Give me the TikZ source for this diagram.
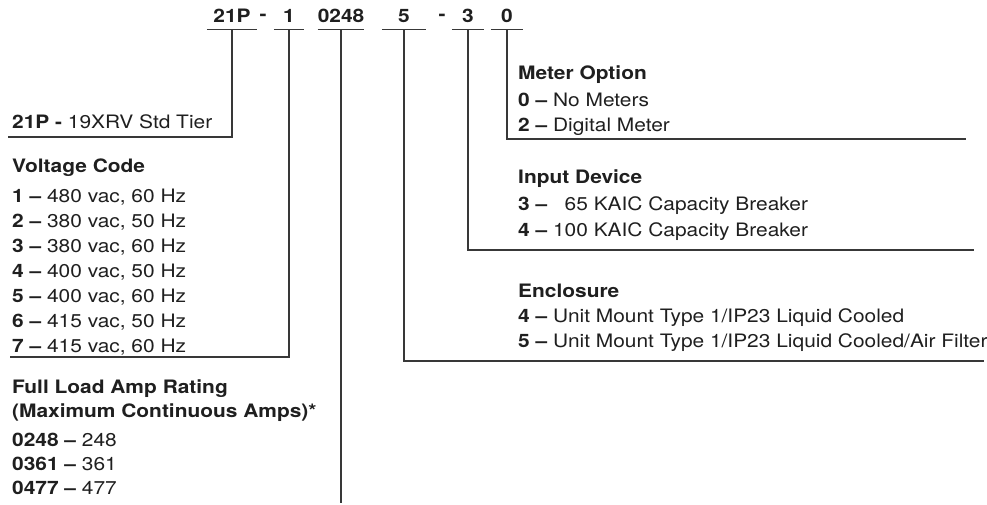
\documentclass[tikz,border=0pt]{standalone}
\usepackage{fontspec}
\setmainfont[FakeStretch=1.13]{TeX Gyre Heros}
\begin{document}
\begin{tikzpicture}[x=1pt,y=1pt,
    every node/.style={text=black!88},
    code/.style={font=\fontsize{18.5}{22}\selectfont\bfseries, anchor=base,
      inner xsep=0pt, inner ysep=6pt, minimum width=#1},
    entry/.style={font=\fontsize{18.5}{22}\selectfont, anchor=base west, inner sep=0pt},
    head/.style={entry, font=\fontsize{18.5}{22}\selectfont\bfseries},
    rule/.style={draw=black!78, line width=1.1pt}]
  \useasboundingbox (0,0) rectangle (987,-505);
  % the model number
  \node[code=50pt] (c21) at (232,-23) {21P};
  \node[code=0pt] (dash1) at (263,-21) {-};
  \node[code=30pt] (c1) at (289,-23) {1};
  \node[code=46pt] (c0248) at (341,-23) {0248};
  \node[code=44pt] (c5) at (404,-23) {5};
  \node[code=0pt] (dash2) at (442,-21) {-};
  \node[code=32pt] (c3) at (468,-23) {3};
  \node[code=32pt] (c0) at (507,-23) {0};
  \foreach \c in {c21,c1,c0248,c5,c3,c0}
    \draw[rule] (\c.south west) -- (\c.south east);

  % left hand side
  \node[entry] (tier) at (12,-129) {\textbf{21P -} 19XRV Std Tier};
  \coordinate (tierend) at (8,-137);
  \draw[rule] (c21.south) |- (tierend);

  \node[head] (volthd) at (12,-172) {Voltage Code};
  \foreach \volt/\hz [count=\i] in {480/60,380/50,380/60,400/50,400/60,415/50,415/60}
    \node[entry] (volt\i) at (12,{-202-25*(\i-1)}) {\textbf{\i\ --} \volt\ vac, \hz\ Hz};
  \coordinate (voltend) at (10,-357);
  \draw[rule] (c1.south) |- (voltend);

  \node[head] (amphd) at (12,-393) {Full Load Amp Rating};
  \node[head] (amphd2) at (12,-417) {(Maximum Continuous Amps)*};
  \foreach \a [count=\i] in {248,361,477}
    \node[entry] (amp\i) at (12,{-446-24*(\i-1)}) {\textbf{0\a\ --} \a};
  \coordinate (ampend) at (341,-503);
  \draw[rule] (c0248.south) -- (ampend);

  % right hand side
  \node[head] (meterhd) at (518,-80) {Meter Option};
  \node[entry] (meter1) at (518,-107) {\textbf{0 --} No Meters};
  \node[entry] (meter2) at (518,-132) {\textbf{2 --} Digital Meter};
  \coordinate (meterend) at (966,-139);
  \draw[rule] (c0.south) |- (meterend);

  \node[head] (inputhd) at (518,-184) {Input Device};
  \node[entry] (input1) at (518,-211) {\textbf{3 --} \phantom{1}65 KAIC Capacity Breaker};
  \node[entry] (input2) at (518,-236) {\textbf{4 --} 100 KAIC Capacity Breaker};
  \coordinate (inputend) at (974,-250);
  \draw[rule] (c3.south) |- (inputend);

  \node[head] (enclhd) at (518,-297) {Enclosure};
  \node[entry] (encl1) at (518,-322) {\textbf{4 --} Unit Mount Type 1/IP23 Liquid Cooled};
  \node[entry] (encl2) at (518,-347) {\textbf{5 --} Unit Mount Type 1/IP23 Liquid Cooled/Air Filter};
  \coordinate (enclend) at (984,-361);
  \draw[rule] (c5.south) |- (enclend);
\end{tikzpicture}
\end{document}
